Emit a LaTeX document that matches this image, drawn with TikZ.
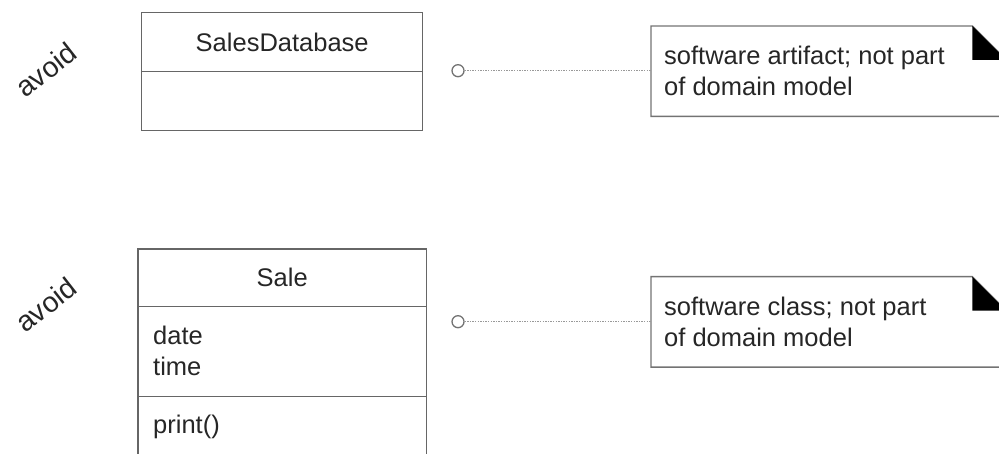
\documentclass[tikz,border=0pt]{standalone}
\usepackage{fontspec}
\setmainfont{Liberation Sans}
\usetikzlibrary{calc}
\begin{document}
\begin{tikzpicture}[x=1pt,y=-1pt,
  every node/.style={text=black!85},
  txt/.style={font=\fontsize{25.5}{30.5}\selectfont, inner sep=0pt},
  compart/.style={draw=black!60, line width=1.4pt, inner sep=0pt, anchor=north west},
  noteline/.style={draw=black!55, line width=1.4pt},
  anchorcirc/.style={circle, draw=black!55, line width=1.3pt, minimum size=12pt, inner sep=0pt},
  dotline/.style={draw=black!40, line width=1.2pt, dash pattern=on 1.3pt off 1.3pt},
  avoidtxt/.style={font=\fontsize{28.5}{30}\selectfont, rotate=38, inner sep=0pt}
]
\useasboundingbox (0,0) rectangle (999,454);
\clip (0,0) rectangle (999,454);

% ---------- top row ----------
\node[avoidtxt] (av1) at (46,70) {avoid};

\node[compart, minimum width=281pt, minimum height=59pt] (sdbhead) at (141,11.7) {};
\node[compart, minimum width=281pt, minimum height=59.3pt] (sdbbody) at (141,70.7) {};
\node[txt] (sdbname) at (sdbhead.center) {SalesDatabase};

\node[anchorcirc] (c1) at (458,70.7) {};
\node[inner sep=0pt, minimum width=355pt, minimum height=90pt, anchor=north west] (n1) at (651,26) {};
\draw[noteline] (n1.north west) -- ($(n1.north east)+(-34,0)$) -- ($(n1.north east)+(0,34)$)
  -- (n1.south east) -- (n1.south west) -- cycle;
\fill[black] ($(n1.north east)+(-34,0)$) -- ($(n1.north east)+(-34,34)$) -- ($(n1.north east)+(0,34)$) -- cycle;
\node[txt, anchor=west, align=left] (t1) at (664,71) {software artifact; not part\\of domain model};
\draw[dotline] (c1.east) -- (c1 -| n1.west);

% ---------- bottom row ----------
\node[avoidtxt] (av2) at (46,305) {avoid};

\node[compart, minimum width=288.4pt, minimum height=57.7pt] (salehead) at (137.3,248.3) {};
\node[compart, minimum width=288.4pt, minimum height=90pt] (saleattr) at (137.3,306) {};
\node[compart, minimum width=288.4pt, minimum height=80pt] (saleops) at (137.3,396) {};
\node[txt] (salename) at (salehead.center) {Sale};
\node[txt, anchor=west, align=left] (attrs) at (153,351) {date\\time};
\node[txt, anchor=west] (ops) at (153,426.7) {print()};

\node[anchorcirc] (c2) at (458,321.7) {};
\node[inner sep=0pt, minimum width=355pt, minimum height=90pt, anchor=north west] (n2) at (651,276.7) {};
\draw[noteline] (n2.north west) -- ($(n2.north east)+(-34,0)$) -- ($(n2.north east)+(0,34)$)
  -- (n2.south east) -- (n2.south west) -- cycle;
\fill[black] ($(n2.north east)+(-34,0)$) -- ($(n2.north east)+(-34,34)$) -- ($(n2.north east)+(0,34)$) -- cycle;
\node[txt, anchor=west, align=left] (t2) at (664,321.7) {software class; not part\\of domain model};
\draw[dotline] (c2.east) -- (c2 -| n2.west);
\end{tikzpicture}
\end{document}
